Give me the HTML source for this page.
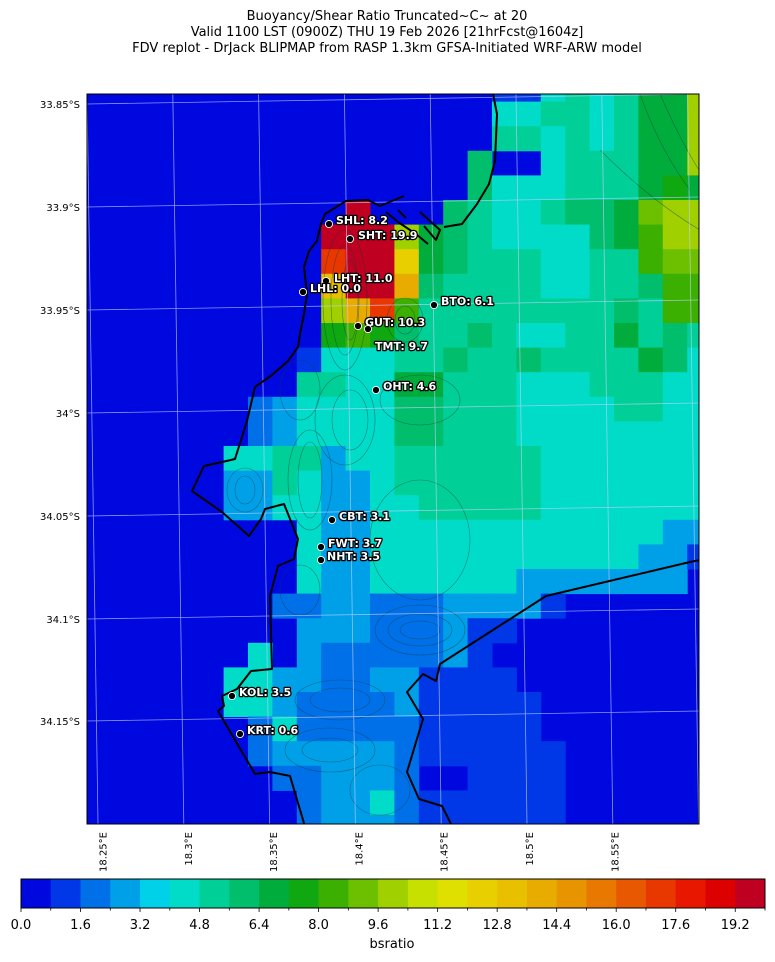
<!DOCTYPE html>
<html><head><meta charset="utf-8"><style>
html,body{margin:0;padding:0;background:#fff;width:775px;height:962px;overflow:hidden}
svg{display:block}
text{font-family:"DejaVu Sans","Liberation Sans",sans-serif}
.st{font-size:11px;font-weight:bold;fill:#fff;stroke:#000;stroke-width:2.6px;paint-order:stroke;stroke-linejoin:round}
</style></head><body>
<svg id="s" width="775" height="962" viewBox="0 0 775 962" xmlns="http://www.w3.org/2000/svg">
<defs><clipPath id="cp"><rect x="87" y="94" width="612" height="730"/></clipPath></defs>
<g text-anchor="middle" font-size="13" fill="#000">
<text x="387" y="20">Buoyancy/Shear Ratio Truncated~C~    at 20</text>
<text x="387" y="36">Valid 1100 LST (0900Z) THU 19 Feb 2026 [21hrFcst@1604z]</text>
<text x="387" y="52">FDV replot - DrJack BLIPMAP from RASP 1.3km GFSA-Initiated WRF-ARW model</text>
</g>
<g clip-path="url(#cp)">
<rect x="87" y="94" width="612" height="730" fill="#0008e0"/>
<g id="grid"></g>
<g id="cont" fill="none" stroke="#0b3b3b" stroke-width="0.6" opacity="0.55">
<ellipse cx="345" cy="300" rx="22" ry="70"/><ellipse cx="345" cy="300" rx="14" ry="55"/><ellipse cx="350" cy="300" rx="8" ry="40"/>
<ellipse cx="405" cy="320" rx="18" ry="22"/><ellipse cx="405" cy="320" rx="10" ry="14"/>
<ellipse cx="300" cy="390" rx="20" ry="30"/><ellipse cx="345" cy="420" rx="30" ry="45"/><ellipse cx="350" cy="420" rx="18" ry="30"/>
<ellipse cx="420" cy="400" rx="40" ry="25"/><ellipse cx="245" cy="490" rx="18" ry="22"/><ellipse cx="245" cy="490" rx="10" ry="14"/>
<ellipse cx="310" cy="480" rx="22" ry="50"/><ellipse cx="310" cy="480" rx="12" ry="38"/><ellipse cx="300" cy="590" rx="20" ry="25"/>
<ellipse cx="420" cy="630" rx="45" ry="25"/><ellipse cx="420" cy="630" rx="32" ry="16"/><ellipse cx="420" cy="630" rx="20" ry="9"/>
<ellipse cx="340" cy="700" rx="45" ry="20"/><ellipse cx="340" cy="700" rx="30" ry="12"/><ellipse cx="330" cy="750" rx="45" ry="22"/>
<ellipse cx="330" cy="750" rx="28" ry="12"/><ellipse cx="380" cy="790" rx="30" ry="25"/><ellipse cx="420" cy="540" rx="50" ry="60"/>
<path d="M640,94 Q660,150 690,190 M660,94 Q680,140 699,170 M700,230 Q650,200 600,150"/>
</g>
<g stroke="#c8d0ff" stroke-width="0.8" opacity="0.7" fill="none" id="grat"></g>
<g fill="none" stroke="#000" stroke-width="2" stroke-linejoin="round">
<path d="M493,94 L497,114 L495,161 L489,184 L477,204 L462,224 L444,227"/>
<path d="M404,196 L380,206 L368,200 L346,201 L325,214 L321,224 L317,241 L309,251 L304,267 L307,294 L304,314 L300,334 L298,347 L288,361 L272,375 L255,387 L247,421 L235,459 L222,462 L204,466 L192,491 L222,512 L249,536 L261,519 L265,509 L284,504 L298,539 L294,559 L278,566 L270,596 L272,669 L251,671 L237,689 L222,696 L224,706 L218,711 L255,774 L270,772 L290,776 L306,830"/>
<path d="M420,212 L440,230 L436,240 L424,226 M386,212 L398,222 L416,234 L428,244 M398,210 L406,218"/>
<path d="M454,830 L442,806 L419,799 L407,772 L423,719 L407,692 L423,674 L436,681 L440,664 L546,596 L690,562 L705,559"/>
</g>
<g id="stn"></g>
</g>
<rect x="87" y="94" width="612" height="730" fill="none" stroke="#000" stroke-width="1"/>
<g font-size="10" text-anchor="end" id="ylab"></g>
<g font-size="10" text-anchor="end" id="xlab"></g>
<g id="cb"></g>
<text x="392" y="948" text-anchor="middle" font-size="13">bsratio</text>
</svg>
<script>
var pal=["#0008e0","#0038e8","#0070e8","#00a0e8","#00d0e8","#00dcc8","#00d098","#00be6c","#00ac3c","#10a810","#3cb000","#6cc000","#a0d000","#c8e000","#e0e000","#e8d000","#e8c000","#e8ac00","#e89400","#e87800","#e85800","#e83800","#e81800","#dc0000","#c00020"];
var rows=[
"000000000000000"+"0011565688c",
"000000000000000"+"0055665688c",
"000000000000000"+"0066565688c",
"000000000000000"+"0700566688c",
"000000000000000"+"07555666898",
"00000000000o000"+"76556778bcc",
"0000000000oooc8"+"76555578acc",
"0000000000loof8"+"76665566abb",
"0000000000gooh7"+"666655667aa",
"0000000000chla6"+"666666676aa",
"00000000009a976"+"67655668676",
"000000000155566"+"76676666875",
"000000000665588"+"66655566655",
"00000002355557766655556655",
"00000002355557766655555555",
"00000055663556666665555555",
"00000033653356666665555555",
"00000033553355666665555555",
"00000000053355555555555533",
"00000000053355555555555331",
"00000000053355555533333330",
"00000000223322233331000000",
"00000000033322231100000000",
"00000005032222231000000000",
"00000055332233111100000000",
"00000055322223111110000000",
"00000002522222111110000000",
"00000002333332111111000000",
"00000000223332001111000000",
"00000000023352111111000000",
"00000000023332111111000000"];
var NS="http://www.w3.org/2000/svg";
function el(t,a,p){var e=document.createElementNS(NS,t);for(var k in a)e.setAttribute(k,a[k]);p.appendChild(e);return e;}
var g=document.getElementById("grid");
for(var r=0;r<rows.length;r++){var s=rows[r];for(var c=0;c<26&&c<s.length;c++){var v=parseInt(s[c],36);if(v===0)continue;
el("rect",{x:(77.2+24.4*c).toFixed(1),y:(77+24.6*r).toFixed(1),width:24.9,height:25.1,fill:pal[v]},g);}}
var gr=document.getElementById("grat");
for(var i=-1;i<8;i++){var xt=87+85.8*i,xb=98+85.8*i;el("line",{x1:xt,y1:94,x2:xb,y2:824},gr);}
var ly=[104,207,310,413,516,619,721];
for(var i=0;i<7;i++){el("line",{x1:87,y1:ly[i],x2:699,y2:ly[i]-10},gr);}
var yl=document.getElementById("ylab"),yt=["33.85°S","33.9°S","33.95°S","34°S","34.05°S","34.1°S","34.15°S"];
for(var i=0;i<7;i++){var t=el("text",{x:80,y:ly[i]+4},yl);t.textContent=yt[i];}
var xl=document.getElementById("xlab"),xt=["18.25°E","18.3°E","18.35°E","18.4°E","18.45°E","18.5°E","18.55°E"];
for(var i=0;i<7;i++){var x=106.5+85.3*i;var t=el("text",{x:x,y:832,transform:"rotate(-90 "+x+" 832)"},xl);t.textContent=xt[i];}
var st=[[329,224,"SHL: 8.2",336,224],[350,239,"SHT: 19.9",358,239],[326,281,"LHT: 11.0",334,282],[303,292,"LHL: 0.0",310,292],[434,305,"BTO: 6.1",441,305],[358,326,"GUT: 10.3",365,326],[368,329,"TMT: 9.7",375,350],[376,390,"OHT: 4.6",383,390],[332,520,"CBT: 3.1",339,520],[321,547,"FWT: 3.7",328,547],[321,560,"NHT: 3.5",327,560],[232,696,"KOL: 3.5",239,696],[240,734,"KRT: 0.6",247,734]];
var sg=document.getElementById("stn");
st.forEach(function(a){el("circle",{cx:a[0],cy:a[1],r:3.6,fill:"#000",stroke:"#fff","stroke-width":0.9},sg);var t=el("text",{x:a[3],y:a[4],"class":"st"},sg);t.textContent=a[2];});
var cb=document.getElementById("cb"),w=744/25;
for(var i=0;i<25;i++)el("rect",{x:(21+w*i).toFixed(2),y:879,width:(w+0.4).toFixed(2),height:29,fill:pal[i]},cb);
el("rect",{x:21,y:879,width:744,height:29,fill:"none",stroke:"#000","stroke-width":1},cb);
for(var i=0;i<=25;i++){var x=21+w*i;var maj=(i%2==0);el("line",{x1:x,y1:908,x2:x,y2:maj?912:910.5,stroke:"#000","stroke-width":0.8},cb);
if(maj&&i<25){var t=el("text",{x:x,y:929,"text-anchor":"middle","font-size":"13"},cb);t.textContent=(i*0.8).toFixed(1);}}
</script>
</body></html>
